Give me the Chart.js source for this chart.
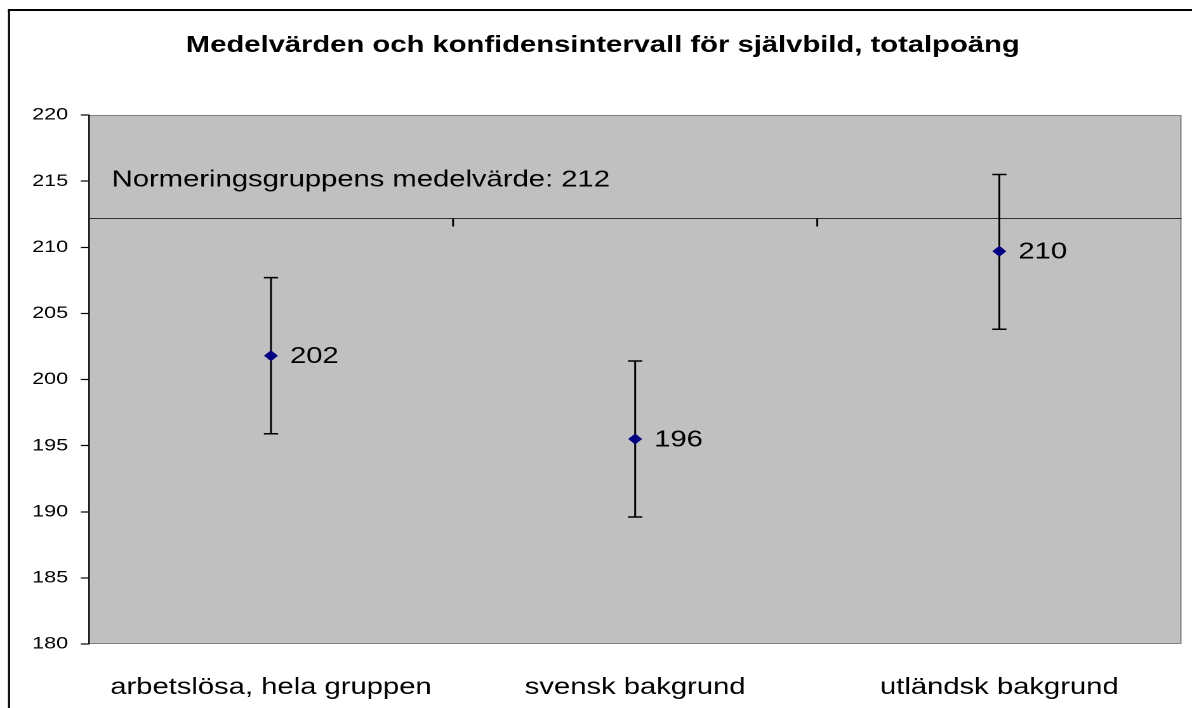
<!DOCTYPE html>
<html>
<head>
<meta charset="utf-8">
<script src="https://cdn.jsdelivr.net/npm/chart.js@4.4.1/dist/chart.umd.min.js"></script>
<style>
  html, body { margin: 0; padding: 0; background: #fff; overflow: hidden; }
  /* the reference picture is stretched sideways, so the canvas is too */
  #chart { display: block; width: 939px; height: 708px; transform: scaleX(1.2694); transform-origin: 0 0; }
</style>
</head>
<body>
<canvas id="chart" width="939" height="708"></canvas>
<script>
const FONT = '"Liberation Sans", Arial, sans-serif';

// data
const categories = ['arbetslösa, hela gruppen', 'svensk bakgrund', 'utländsk bakgrund'];
const means = [201.8, 195.5, 209.7];
const lowerCI = [195.9, 189.6, 203.8];
const upperCI = [207.7, 201.4, 215.5];
const normMean = 212.2;
const normLabel = 'Normeringsgruppens medelvärde: 212';
const yMin = 180, yMax = 220, yStep = 5;

/* white page + black frame, grey plot area */
const backdrop = {
  id: 'backdrop',
  beforeDraw(chart) {
    const { ctx, chartArea: a, width, height } = chart;
    ctx.save();
    ctx.fillStyle = '#fff';
    ctx.fillRect(0, 0, width, height);
    ctx.strokeStyle = '#000';
    ctx.lineWidth = 1.6;
    ctx.beginPath();
    ctx.moveTo(7.1, height);
    ctx.lineTo(7.1, 10);
    ctx.stroke();
    ctx.lineWidth = 2;
    ctx.beginPath();
    ctx.moveTo(6.3, 10);
    ctx.lineTo(width, 10);
    ctx.stroke();
    ctx.fillStyle = '#c0c0c0';
    ctx.fillRect(a.left, a.top, a.right - a.left, a.bottom - a.top);
    ctx.strokeStyle = '#808080';
    ctx.lineWidth = 1;
    ctx.strokeRect(a.left, a.top + 0.5, a.right - a.left - 0.5, a.bottom - a.top - 1);
    ctx.restore();
  }
};

/* norm line (category axis crosses here) + confidence intervals */
const errorBars = {
  id: 'errorBars',
  beforeDatasetsDraw(chart) {
    const { ctx, chartArea: a, scales: { x, y } } = chart;
    ctx.save();
    const ny = Math.round(y.getPixelForValue(normMean)) + 0.5;
    ctx.strokeStyle = '#303030';
    ctx.lineWidth = 1;
    ctx.beginPath();
    ctx.moveTo(a.left, ny);
    ctx.lineTo(a.right, ny);
    ctx.stroke();
    ctx.lineWidth = 1.5;
    ctx.strokeStyle = '#000';
    for (let i = 1; i < categories.length; i++) {
      const bx = x.getPixelForValue(i - 0.5);
      ctx.beginPath();
      ctx.moveTo(bx, ny);
      ctx.lineTo(bx, ny + 8);
      ctx.stroke();
    }
    ctx.font = `23px ${FONT}`;
    ctx.fillStyle = '#000';
    ctx.textBaseline = 'alphabetic';
    ctx.fillText(normLabel, a.left + 18, ny - 32);

    ctx.strokeStyle = '#000';
    ctx.lineWidth = 1.5;
    means.forEach((m, i) => {
      const px = x.getPixelForValue(i);
      const top = y.getPixelForValue(upperCI[i]);
      const bot = y.getPixelForValue(lowerCI[i]);
      ctx.beginPath();
      ctx.moveTo(px, top);
      ctx.lineTo(px, bot);
      ctx.moveTo(px - 5.6, top);
      ctx.lineTo(px + 5.6, top);
      ctx.moveTo(px - 5.6, bot);
      ctx.lineTo(px + 5.6, bot);
      ctx.stroke();
    });
    ctx.restore();
  },
  afterDatasetsDraw(chart) {
    const { ctx, scales: { x, y } } = chart;
    ctx.save();
    ctx.font = `23px ${FONT}`;
    ctx.fillStyle = '#000';
    ctx.textBaseline = 'middle';
    means.forEach((m, i) => {
      ctx.fillText(String(Math.round(m)), x.getPixelForValue(i) + 15, y.getPixelForValue(m) + 1);
    });
    ctx.restore();
  }
};

new Chart(document.getElementById('chart'), {
  type: 'line',
  data: {
    labels: categories,
    datasets: [{
      data: means,
      showLine: false,
      pointStyle: 'rectRot',
      pointRadius: 4.8,
      pointBorderWidth: 1,
      pointBackgroundColor: '#000080',
      pointBorderColor: '#000080'
    }]
  },
  options: {
    responsive: false,
    animation: false,
    devicePixelRatio: 2,
    layout: { padding: { left: 19, right: 8.3, top: 0, bottom: 0 } },
    scales: {
      x: {
        type: 'category',
        offset: true,
        grid: { display: false },
        border: { display: false },
        ticks: { color: '#000', font: { family: FONT, size: 23 }, padding: 22, maxRotation: 0 },
        afterFit: s => { s.height = 64; }
      },
      y: {
        min: yMin,
        max: yMax,
        ticks: { stepSize: yStep, color: '#000', font: { family: FONT, size: 17 }, padding: 10 },
        grid: { drawOnChartArea: false, tickLength: 6.3, tickColor: '#000', tickWidth: 1.2 },
        border: { color: '#000', width: 1.2 },
        afterFit: s => { s.width = 51; }
      }
    },
    plugins: {
      legend: { display: false },
      tooltip: { enabled: false },
      title: {
        display: true,
        text: 'Medelvärden och konfidensintervall för självbild, totalpoäng',
        color: '#000',
        font: { family: FONT, size: 23, weight: 'bold' },
        padding: { top: 32, bottom: 55.4 }
      }
    }
  },
  plugins: [backdrop, errorBars]
});
</script>
</body>
</html>
